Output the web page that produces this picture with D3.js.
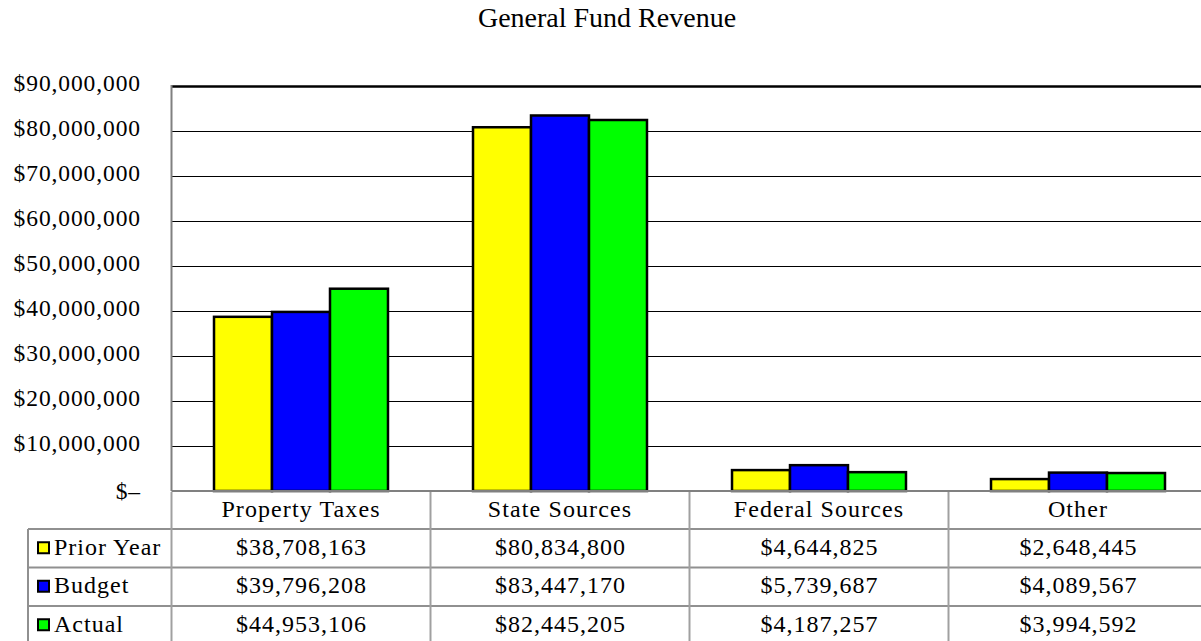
<!DOCTYPE html>
<html>
    <head>
        <meta charset="utf-8">
        <script src="https://d3js.org/d3.v7.min.js"></script>
        <style>
            body { margin: 0; background: #fff; }
            text { font-family: "Liberation Serif", "Times New Roman", serif; fill: #000; }
        </style>
    </head>
    <body>
        <div id="chart"></div>
        <script>

            // data
            var categories = ["Property Taxes", "State Sources", "Federal Sources", "Other"];
            var seriesNames = ["Prior Year", "Budget", "Actual"];
            var priorYear = [38708163, 80834800, 4644825, 2648445];
            var budget = [39796208, 83447170, 5739687, 4089567];
            var actual = [44953106, 82445205, 4187257, 3994592];
            var yTicks = [0, 10000000, 20000000, 30000000, 40000000, 50000000, 60000000, 70000000, 80000000, 90000000];
            var colors = ["#ffff00", "#0000ff", "#00ff00"];

            var series = [priorYear, budget, actual];

            var width = 1201,
                height = 641;

            var svg = d3.select("#chart")
                .append("svg")
                    .attr("width", width)
                    .attr("height", height);

            // plot area (right edge runs past the window like the original)
            var plotLeft = 171.5, plotRight = 1207.5, plotTop = 86, plotBottom = 491;

            var x = d3.scaleBand()
                .domain(categories)
                .range([plotLeft, plotRight]);

            var x1 = d3.scaleBand()
                .domain(seriesNames)
                .range([0, x.bandwidth()])
                .paddingOuter(0.733);

            var y = d3.scaleLinear()
                .domain([0, 90000000])
                .range([plotBottom, plotTop]);

            var fmt = d3.format("$,");

            // title
            svg.append("text")
                .attr("x", 607)
                .attr("y", 27)
                .attr("text-anchor", "middle")
                .style("font-size", "28px")
                .text("General Fund Revenue");

            // gridlines
            svg.selectAll(".grid")
                .data(yTicks.filter(function(d) { return d > 0; }))
                .join("line")
                    .attr("x1", plotLeft)
                    .attr("x2", width)
                    .attr("y1", function(d) { return Math.round(y(d)) + 0.5; })
                    .attr("y2", function(d) { return Math.round(y(d)) + 0.5; })
                    .attr("stroke", "#000")
                    .attr("stroke-width", function(d) { return d === 90000000 ? 2.5 : 1; });

            // y labels
            svg.selectAll(".ylab")
                .data(yTicks)
                .join("text")
                    .attr("x", 141)
                    .attr("y", function(d) { return y(d) + (d === 0 ? 3 : 0); })
                    .attr("text-anchor", "end")
                    .attr("dominant-baseline", "middle")
                    .style("font-size", "23.5px")
                    .style("letter-spacing", "0.9px")
                    .text(function(d) { return d === 0 ? "$\u2013" : fmt(d); });

            // bars
            var groups = svg.selectAll(".grp")
                .data(categories)
                .join("g")
                    .attr("transform", function(d) { return "translate(" + x(d) + ",0)"; });

            groups.selectAll("rect")
                .data(function(d, i) {
                    return seriesNames.map(function(s, j) { return { name: s, value: series[j][i], c: colors[j] }; });
                })
                .join("rect")
                    .attr("x", function(d) { return x1(d.name); })
                    .attr("y", function(d) { return y(d.value); })
                    .attr("width", x1.bandwidth())
                    .attr("height", function(d) { return plotBottom - y(d.value); })
                    .attr("fill", function(d) { return d.c; })
                    .attr("stroke", "#000")
                    .attr("stroke-width", 2.5);

            // axes
            svg.append("line")
                .attr("x1", plotLeft).attr("x2", plotLeft)
                .attr("y1", plotTop - 1).attr("y2", plotBottom)
                .attr("stroke", "#808080").attr("stroke-width", 2);
            svg.append("line")
                .attr("x1", plotLeft).attr("x2", width)
                .attr("y1", plotBottom).attr("y2", plotBottom)
                .attr("stroke", "#808080").attr("stroke-width", 2);

            // data table
            var tableLeft = 28;
            var rowY = d3.scaleBand()
                .domain(seriesNames)
                .range([529, 529 + 3 * 38.5]);

            // header row
            svg.selectAll(".hdr")
                .data(categories)
                .join("text")
                    .attr("x", function(d) { return x(d) + x.bandwidth() / 2; })
                    .attr("y", 511)
                    .attr("text-anchor", "middle")
                    .attr("dominant-baseline", "middle")
                    .style("font-size", "24px")
                    .style("letter-spacing", "1.1px")
                    .text(function(d) { return d; });

            // horizontal rules
            svg.selectAll(".hrule")
                .data(seriesNames)
                .join("line")
                    .attr("x1", tableLeft)
                    .attr("x2", width)
                    .attr("y1", function(d) { return rowY(d); })
                    .attr("y2", function(d) { return rowY(d); })
                    .attr("stroke", "#909090")
                    .attr("stroke-width", 2);

            // vertical rules
            svg.append("line")
                .attr("x1", tableLeft).attr("x2", tableLeft)
                .attr("y1", 529).attr("y2", height)
                .attr("stroke", "#909090").attr("stroke-width", 2);
            svg.selectAll(".vrule")
                .data(categories)
                .join("line")
                    .attr("x1", function(d) { return x(d); })
                    .attr("x2", function(d) { return x(d); })
                    .attr("y1", plotBottom + 1)
                    .attr("y2", height)
                    .attr("stroke", "#a0a0a0")
                    .attr("stroke-width", 2);

            // legend keys and names
            svg.selectAll(".key")
                .data(seriesNames)
                .join("rect")
                    .attr("x", 38)
                    .attr("y", function(d) { return rowY(d) + rowY.bandwidth() / 2 - 6; })
                    .attr("width", 11)
                    .attr("height", 11)
                    .attr("fill", function(d, i) { return colors[i]; })
                    .attr("stroke", "#000")
                    .attr("stroke-width", 2);

            svg.selectAll(".rowname")
                .data(seriesNames)
                .join("text")
                    .attr("x", 54)
                    .attr("y", function(d) { return rowY(d) + rowY.bandwidth() / 2 + 1; })
                    .attr("dominant-baseline", "middle")
                    .style("font-size", "24px")
                    .style("letter-spacing", "1px")
                    .text(function(d) { return d; });

            // cell values
            seriesNames.forEach(function(s, j) {
                svg.selectAll(".cell" + j)
                    .data(categories)
                    .join("text")
                        .attr("x", function(d) { return x(d) + x.bandwidth() / 2 + 0.5; })
                        .attr("y", rowY(s) + rowY.bandwidth() / 2 + 1)
                        .attr("text-anchor", "middle")
                        .attr("dominant-baseline", "middle")
                        .style("font-size", "24px")
                        .style("letter-spacing", "1px")
                        .text(function(d, i) { return fmt(series[j][i]); });
            });
        </script>
    </body>
</html>
